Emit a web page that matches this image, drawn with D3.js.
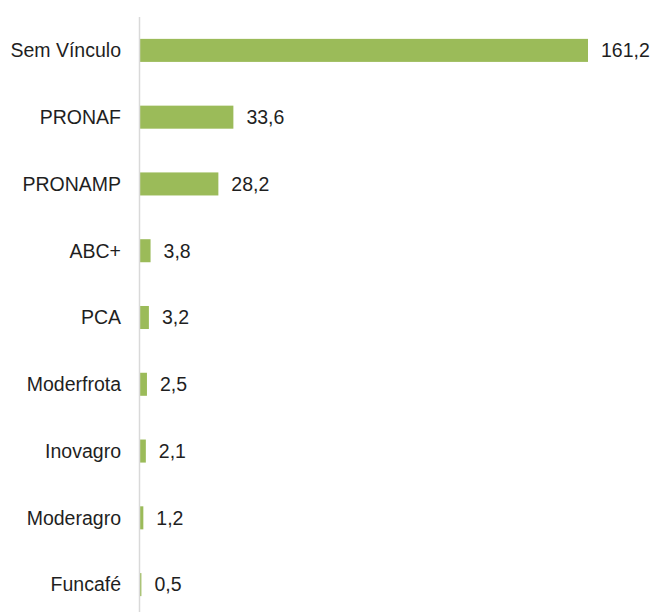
<!DOCTYPE html>
<html>
<head>
<meta charset="utf-8">
<script src="https://cdn.jsdelivr.net/npm/d3@7"></script>
<style>
  body { margin: 0; background: #fff; }
  text { font-family: "Liberation Sans", Arial, sans-serif; }
</style>
</head>
<body>
<script>
// data
const categories = ["Sem Vínculo", "PRONAF", "PRONAMP", "ABC+", "PCA", "Moderfrota", "Inovagro", "Moderagro", "Funcafé"];
const values = [161.2, 33.6, 28.2, 3.8, 3.2, 2.5, 2.1, 1.2, 0.5];
const valueLabels = ["161,2", "33,6", "28,2", "3,8", "3,2", "2,5", "2,1", "1,2", "0,5"];

const WIDTH = 653, HEIGHT = 612;
const AXIS_X = 139.5;
const FONT = 19.5;

const svg = d3.select("body").append("svg")
    .attr("width", WIDTH)
    .attr("height", HEIGHT);

const x = d3.scaleLinear()
    .domain([0, 161.2])
    .range([AXIS_X + 0.5, 588]);

const y = d3.scaleBand()
    .domain(categories)
    .range([17, 618])
    .paddingInner(0.655)
    .paddingOuter(0.3275);

const rows = categories.map((c, i) => ({cat: c, val: values[i], label: valueLabels[i]}));

svg.append("g")
    .selectAll("rect")
    .data(rows)
    .enter()
    .append("rect")
    .attr("x", x(0))
    .attr("y", d => y(d.cat))
    .attr("width", d => x(d.val) - x(0))
    .attr("height", y.bandwidth())
    .attr("fill", "#9bbb59");

// axis line
svg.append("line")
    .attr("x1", AXIS_X).attr("x2", AXIS_X)
    .attr("y1", 17).attr("y2", 618)
    .attr("stroke", "#d9d9d9")
    .attr("stroke-width", 1.5);

// category labels
svg.append("g")
    .selectAll("text")
    .data(rows)
    .enter()
    .append("text")
    .attr("x", 121)
    .attr("y", d => y(d.cat) + y.bandwidth() / 2)
    .attr("dy", "0.35em")
    .attr("text-anchor", "end")
    .attr("font-size", FONT)
    .attr("fill", "#1f1f1f")
    .text(d => d.cat);

// value labels
svg.append("g")
    .selectAll("text")
    .data(rows)
    .enter()
    .append("text")
    .attr("x", d => x(d.val) + 13)
    .attr("y", d => y(d.cat) + y.bandwidth() / 2)
    .attr("dy", "0.35em")
    .attr("font-size", FONT)
    .attr("fill", "#1f1f1f")
    .text(d => d.label);
</script>
</body>
</html>
